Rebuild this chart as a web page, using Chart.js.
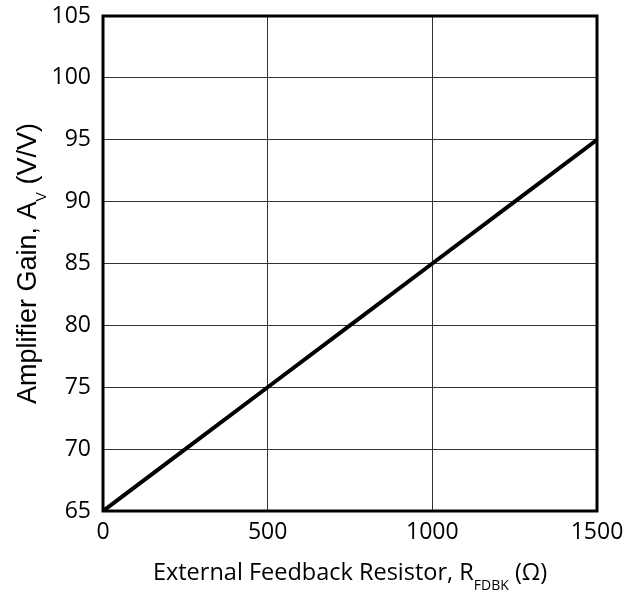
<!DOCTYPE html>
<html>
<head>
<meta charset="utf-8">
<script src="https://cdn.jsdelivr.net/npm/chart.js@4"></script>
<style>
html,body{margin:0;padding:0;background:#fff;}
#wrap{width:629px;height:598px;position:relative;}
</style>
</head>
<body>
<div id="wrap"><canvas id="c"></canvas></div>
<script>
const resistance = [0, 250, 500, 750, 1000, 1250, 1500];
const gain = [65, 70, 75, 80, 85, 90, 95];
const xTicks = [0, 500, 1000, 1500];
const yTicks = [65, 70, 75, 80, 85, 90, 95, 100, 105];
const xTitle = ["External Feedback Resistor, R", "FDBK", " (\u03A9)"];
const yTitle = ["Amplifier Gain, A", "V", " (V/V)"];

const tickFont = {family: "Open Sans", size: 23};

const titlePlugin = {
  id: 'titles',
  afterDraw(chart) {
    const ctx = chart.ctx, a = chart.chartArea;
    ctx.save();
    ctx.strokeStyle = '#000';
    ctx.lineWidth = 3;
    ctx.strokeRect(a.left, a.top, a.right - a.left, a.bottom - a.top);
    ctx.fillStyle = '#000';
    ctx.textBaseline = 'alphabetic';
    // x title
    const mainX = '23.5px "Open Sans"', subX = '14px "Open Sans"';
    ctx.font = mainX; const w1 = ctx.measureText(xTitle[0]).width;
    ctx.font = subX; const w2 = ctx.measureText(xTitle[1]).width;
    ctx.font = mainX; const w3 = ctx.measureText(xTitle[2]).width;
    let x = (a.left + a.right) / 2 - (w1 + w2 + w3) / 2;
    const by = 580;
    ctx.textAlign = 'left';
    ctx.font = mainX; ctx.fillText(xTitle[0], x, by); x += w1;
    ctx.font = subX; ctx.fillText(xTitle[1], x, by + 10); x += w2;
    ctx.font = mainX; ctx.fillText(xTitle[2], x, by);
    // y title
    const mainY = '27px "Liberation Sans"', subY = '14px "Liberation Sans"';
    ctx.font = mainY; const v1 = ctx.measureText(yTitle[0]).width;
    ctx.font = subY; const v2 = ctx.measureText(yTitle[1]).width;
    ctx.font = mainY; const v3 = ctx.measureText(yTitle[2]).width;
    ctx.translate(36, (a.top + a.bottom) / 2);
    ctx.rotate(-Math.PI / 2);
    let y = -(v1 + v2 + v3) / 2;
    ctx.font = mainY; ctx.fillText(yTitle[0], y, 0); y += v1;
    ctx.font = subY; ctx.fillText(yTitle[1], y, 10); y += v2;
    ctx.font = mainY; ctx.fillText(yTitle[2], y, 0);
    ctx.restore();
  }
};

new Chart(document.getElementById('c'), {
  type: 'line',
  data: {
    datasets: [{
      data: resistance.map((r, i) => ({x: r, y: gain[i]})),
      borderColor: '#000',
      borderWidth: 4,
      pointRadius: 0,
      tension: 0,
      fill: false
    }]
  },
  options: {
    responsive: true,
    maintainAspectRatio: false,
    animation: false,
    layout: {padding: {top: 16, right: 32, left: 0, bottom: 0}},
    plugins: {legend: {display: false}, tooltip: {enabled: false}},
    scales: {
      x: {
        type: 'linear', min: 0, max: 1500,
        afterBuildTicks: s => { s.ticks = xTicks.map(v => ({value: v})); },
        afterFit: s => { s.height = 87; s.paddingLeft = 0; s.paddingRight = 0; },
        ticks: {font: tickFont, color: '#000', padding: 8, maxRotation: 0, callback: v => String(v)},
        grid: {color: '#333', lineWidth: 1, drawTicks: false},
        border: {display: false}
      },
      y: {
        type: 'linear', min: 65, max: 105,
        afterBuildTicks: s => { s.ticks = yTicks.map(v => ({value: v})); },
        afterFit: s => { s.width = 103; s.paddingTop = 0; s.paddingBottom = 0; },
        ticks: {font: tickFont, color: '#000', padding: 12, callback: v => String(v)},
        grid: {color: '#333', lineWidth: 1, drawTicks: false},
        border: {display: false}
      }
    }
  },
  plugins: [titlePlugin]
});
</script>
</body>
</html>
